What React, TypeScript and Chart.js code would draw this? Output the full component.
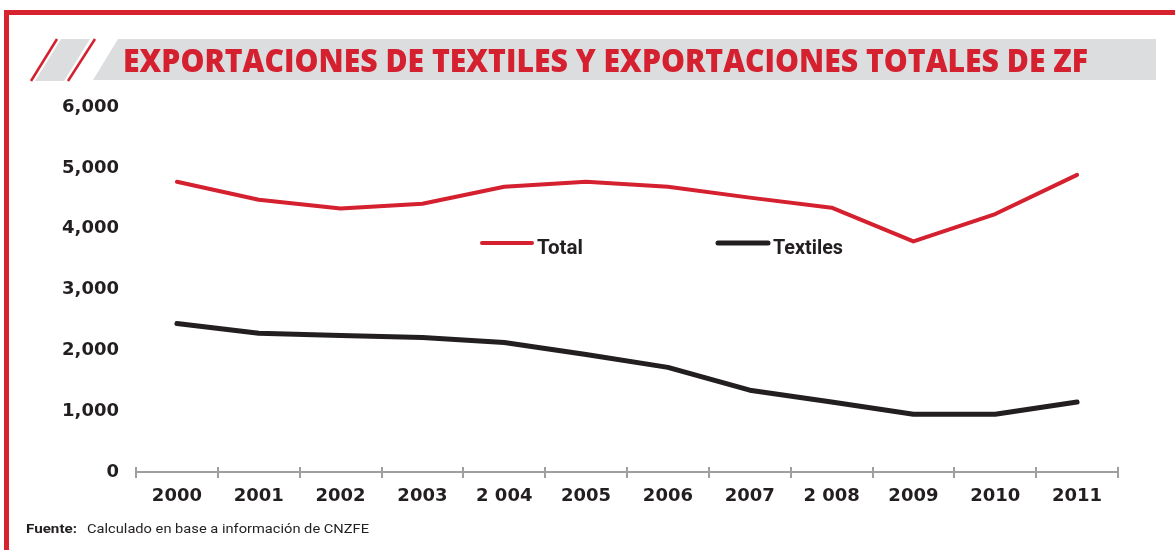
import React, { useEffect, useRef } from "react";
import { Chart, registerables } from "chart.js";

Chart.register(...registerables);

const years = ["2000", "2001", "2002", "2003", "2 004", "2005", "2006", "2007", "2 008", "2009", "2010", "2011"];
const totalValues = [4770, 4475, 4330, 4410, 4690, 4770, 4690, 4510, 4345, 3790, 4240, 4885];
const textileValues = [2440, 2280, 2245, 2210, 2130, 1930, 1720, 1345, 1150, 950, 950, 1150];
const yTicks = [0, 1000, 2000, 3000, 4000, 5000, 6000];

const RED = "#d4202f";
const DARK = "#231f20";
const AXIS_GREY = "#9d9fa2";

const axisTicksPlugin = {
  id: "axisTicks",
  afterDraw(chart: any) {
    const sx = chart.scales.x;
    const ctx = chart.ctx;
    const n = chart.data.labels.length;
    const step = (sx.right - sx.left) / n;
    const y = sx.top;
    ctx.save();
    ctx.strokeStyle = AXIS_GREY;
    ctx.lineWidth = 2;
    for (let i = 0; i <= n; i++) {
      const x = Math.round(sx.left + step * i);
      ctx.beginPath();
      ctx.moveTo(x, y - 5);
      ctx.lineTo(x, y + 6);
      ctx.stroke();
    }
    ctx.restore();
  },
};

export default function App() {
  const ref = useRef<HTMLCanvasElement>(null);
  useEffect(() => {
    if (!ref.current) return;
    const chart = new Chart(ref.current, {
      type: "line",
      data: {
        labels: years,
        datasets: [
          {
            label: "Total",
            data: totalValues,
            borderColor: RED,
            backgroundColor: RED,
            borderWidth: 4,
            pointRadius: 0,
            tension: 0,
            borderCapStyle: "round",
            borderJoinStyle: "round",
          },
          {
            label: "Textiles",
            data: textileValues,
            borderColor: DARK,
            backgroundColor: DARK,
            borderWidth: 5,
            pointRadius: 0,
            tension: 0,
            borderCapStyle: "round",
            borderJoinStyle: "round",
          },
        ],
      },
      options: {
        responsive: false,
        animation: false,
        devicePixelRatio: 1,
        layout: { padding: { left: 0, top: 107, right: 57, bottom: 40 } },
        plugins: { legend: { display: false }, tooltip: { enabled: false }, title: { display: false } },
        scales: {
          x: {
            type: "category",
            offset: true,
            grid: { display: false, drawTicks: false },
            border: { display: true, color: AXIS_GREY, width: 2 },
            ticks: {
              color: DARK,
              padding: 14,
              maxRotation: 0,
              autoSkip: false,
              font: { family: "'DejaVu Sans', Verdana, sans-serif", weight: "bold", size: 18 },
            },
            afterFit(scale: any) {
              scale.height = 550 - 472 - 40;
            },
          },
          y: {
            min: 0,
            max: 6000,
            afterBuildTicks(scale: any) {
              scale.ticks = yTicks.map((v) => ({ value: v }));
            },
            grid: { display: false, drawTicks: false },
            border: { display: false },
            ticks: {
              color: DARK,
              padding: 17,
              font: { family: "'DejaVu Sans', Verdana, sans-serif", weight: "bold", size: 18 },
              callback: (v: any) => Number(v).toLocaleString("en-US"),
            },
            afterFit(scale: any) {
              scale.width = 136;
            },
          },
        },
      },
      plugins: [axisTicksPlugin],
    } as any);
    return () => chart.destroy();
  }, []);

  return (
    <div style={{ position: "fixed", left: 0, top: 0, width: 1175, height: 550, background: "#fff", overflow: "hidden" }}>
      <canvas ref={ref} width={1175} height={550} style={{ position: "absolute", left: 0, top: 0, width: 1175, height: 550 }} />
      <svg width={1175} height={550} style={{ position: "absolute", left: 0, top: 0, pointerEvents: "none" }}>
        {/* frame */}
        <rect x={4} y={10} width={1171} height={5} fill="#d7222f" />
        <rect x={4} y={10} width={5} height={540} fill="#d7222f" />
        {/* title band */}
        <line x1={57} y1={39} x2={31} y2={81} stroke={RED} strokeWidth={2.5} />
        <polygon points="61,39 90,39 64,81 35,81" fill="#dcdddf" />
        <line x1={95} y1={39} x2={68} y2={81} stroke={RED} strokeWidth={2.5} />
        <polygon points="118,39 1156,39 1156,80 93,80" fill="#dcdddf" />
        <text
          x={123}
          y={72}
          fill={RED}
          textLength={965}
          lengthAdjust="spacingAndGlyphs"
          style={{ fontFamily: "'Open Sans', sans-serif", fontWeight: 800, fontSize: 31 }}
        >
          EXPORTACIONES DE TEXTILES Y EXPORTACIONES TOTALES DE ZF
        </text>
        {/* legend */}
        <line x1={482} y1={243} x2={532} y2={243} stroke={RED} strokeWidth={4} strokeLinecap="round" />
        <text x={537} y={254} fill={DARK} textLength={46} lengthAdjust="spacingAndGlyphs"
          style={{ fontFamily: "'Liberation Sans Narrow', 'Roboto', sans-serif", fontWeight: 700, fontSize: 20 }}>
          Total
        </text>
        <line x1={718} y1={243} x2={768} y2={243} stroke={DARK} strokeWidth={5} strokeLinecap="round" />
        <text x={773} y={254} fill={DARK} textLength={70} lengthAdjust="spacingAndGlyphs"
          style={{ fontFamily: "'Liberation Sans Narrow', 'Roboto', sans-serif", fontWeight: 700, fontSize: 20 }}>
          Textiles
        </text>
        {/* footer */}
        <text x={26} y={533} fill={DARK} textLength={51} lengthAdjust="spacingAndGlyphs"
          style={{ fontFamily: "'Liberation Sans Narrow', 'Roboto', sans-serif", fontWeight: 700, fontSize: 13 }}>
          Fuente:
        </text>
        <text x={87} y={533} fill={DARK} textLength={282} lengthAdjust="spacingAndGlyphs"
          style={{ fontFamily: "'Liberation Sans Narrow', 'Roboto', sans-serif", fontWeight: 400, fontSize: 13 }}>
          Calculado en base a información de CNZFE
        </text>
      </svg>
    </div>
  );
}
